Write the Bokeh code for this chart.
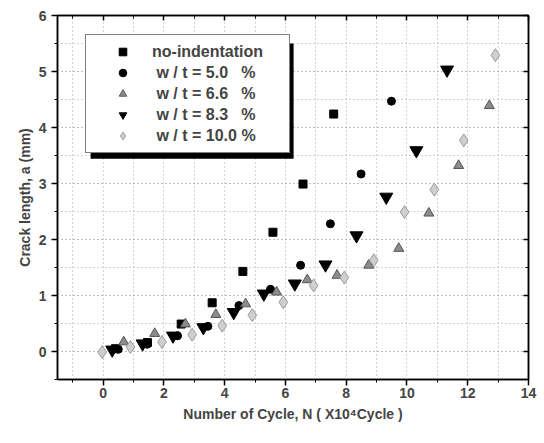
from bokeh.plotting import figure
from bokeh.models import (Legend, LegendItem, LinearAxis, BoxAnnotation, Range1d,
                          SingleIntervalTicker)
from bokeh.embed import file_html
from bokeh.resources import INLINE

# ---- data (N in 10^4 cycles, crack length a in mm) ----
noind_n = [0.41, 1.46, 2.57, 3.59, 4.60, 5.59, 6.58, 7.59]
noind_a = [0.05, 0.16, 0.49, 0.87, 1.43, 2.13, 2.99, 4.24]

w50_n = [0.50, 1.45, 2.45, 3.45, 4.47, 5.51, 6.50, 7.48, 8.49, 9.49]
w50_a = [0.04, 0.13, 0.28, 0.45, 0.82, 1.11, 1.54, 2.28, 3.17, 4.47]

w66_n = [0.68, 1.70, 2.71, 3.71, 4.69, 5.71, 6.72, 7.70, 8.74, 9.73, 10.72, 11.70, 12.71]
w66_a = [0.17, 0.32, 0.49, 0.66, 0.85, 1.06, 1.28, 1.36, 1.54, 1.84, 2.47, 3.32, 4.39]

w83_n = [0.30, 1.30, 2.30, 3.30, 4.30, 5.29, 6.31, 7.32, 8.34, 9.32, 10.31, 11.32]
w83_a = [0.03, 0.14, 0.28, 0.43, 0.70, 1.03, 1.21, 1.55, 2.07, 2.76, 3.59, 5.03]

w100_n = [-0.03, 0.90, 1.94, 2.93, 3.92, 4.91, 5.93, 6.93, 7.94, 8.91, 9.92, 10.90, 11.87, 12.91]
w100_a = [-0.01, 0.08, 0.17, 0.30, 0.46, 0.65, 0.88, 1.18, 1.32, 1.63, 2.49, 2.89, 3.77, 5.29]

labels = ["no-indentation",
          "\u00a0w / t = 5.0\u00a0\u00a0\u00a0%",
          "\u00a0w / t = 6.6\u00a0\u00a0\u00a0%",
          "\u00a0w / t = 8.3\u00a0\u00a0\u00a0%",
          "\u00a0w / t = 10.0 %"]

FONT = "Liberation Sans"
TICK_FONT = "Liberation Sans Narrow, Liberation Sans"

p = figure(width=544, height=443, x_range=Range1d(-1.5, 14), y_range=Range1d(-0.5, 6),
           output_backend="svg", toolbar_location=None,
           min_border_left=57, min_border_right=16, min_border_top=15, min_border_bottom=64)
p.outline_line_color = "black"
p.outline_line_width = 1.5

# axes
p.xaxis.ticker = SingleIntervalTicker(interval=2, num_minor_ticks=2)
p.yaxis.ticker = SingleIntervalTicker(interval=1, num_minor_ticks=2)
for ax in (p.xaxis[0], p.yaxis[0]):
    ax.axis_line_width = 1.5
    ax.major_tick_line_width = 1.5
    ax.major_tick_in = 0
    ax.major_tick_out = 6
    ax.minor_tick_in = 0
    ax.minor_tick_out = 3
    ax.major_label_text_font = TICK_FONT
    ax.major_label_text_font_style = "bold"
    ax.major_label_text_font_size = "14px"
    ax.axis_label_text_font = FONT
    ax.axis_label_text_font_style = "bold"
    ax.axis_label_text_font_size = "14px"
p.xaxis.axis_label = "Number of Cycle, N ( X10\u2074Cycle )"
p.yaxis.axis_label = "Crack length, a (mm)"
p.xaxis.major_label_standoff = 2
p.xaxis.axis_label_standoff = 5
p.yaxis.major_label_standoff = 5
p.yaxis.axis_label_standoff = 3

# mirrored axes (ticks only, labels not drawn)
top = LinearAxis(ticker=SingleIntervalTicker(interval=2, num_minor_ticks=2))
right = LinearAxis(ticker=SingleIntervalTicker(interval=1, num_minor_ticks=2))
for ax in (top, right):
    ax.major_label_text_font_size = "1px"
    ax.major_label_text_color = None
    ax.major_label_standoff = 0
    ax.axis_line_width = 1.5
    ax.major_tick_line_width = 1.5
    ax.major_tick_in = 5
    ax.major_tick_out = 0
    ax.minor_tick_in = 3
    ax.minor_tick_out = 0
p.add_layout(top, "above")
p.add_layout(right, "right")

# grid
for g in (p.xgrid[0], p.ygrid[0]):
    g.grid_line_color = "#a8a8a8"
    g.grid_line_dash = "1 3"
    g.grid_line_width = 1
    g.minor_grid_line_color = None
p.ygrid.minor_grid_line_color = "#a8a8a8"
p.ygrid.minor_grid_line_dash = "1 3"
p.xgrid.ticker = SingleIntervalTicker(interval=1)

# series
r0 = p.scatter(noind_n, noind_a, marker="square", size=8, fill_color="black", line_color="black")
r1 = p.scatter(w50_n, w50_a, marker="circle", size=8, fill_color="black", line_color="black")
r2 = p.scatter(w66_n, w66_a, marker="triangle", size=10, fill_color="#8c8c8c", line_color="#555555")
r3 = p.scatter(w83_n, w83_a, marker="inverted_triangle", size=13, fill_color="black", line_color="black")
r4 = p.scatter(w100_n, w100_a, marker="diamond", size=13, fill_color="#cfcfcf", line_color="#9a9a9a")

# legend shadow
shadow = BoxAnnotation(left=-0.41, right=6.27, bottom=3.44, top=5.50,
                       fill_color="black", fill_alpha=1.0, line_color=None)
p.add_layout(shadow)

legend = Legend(items=[LegendItem(label=l, renderers=[r]) for l, r in zip(labels, [r0, r1, r2, r3, r4])],
                location=(28, 226), orientation="vertical",
                border_line_color="black", border_line_width=1.5,
                background_fill_color="white", background_fill_alpha=1.0,
                label_text_font=FONT, label_text_font_style="bold", label_text_font_size="16px",
                padding=7, spacing=2, label_height=19, glyph_height=19, glyph_width=59,
                label_width=130, label_standoff=0, margin=0)
p.add_layout(legend, "center")

open("out.html", "w").write(file_html(p, INLINE))
